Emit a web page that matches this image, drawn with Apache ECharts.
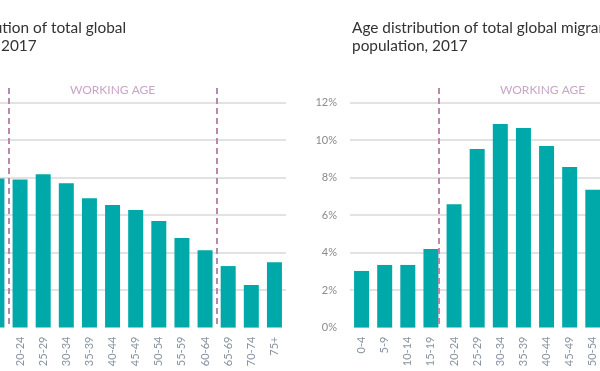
<!DOCTYPE html>
<html>
<head>
<meta charset="utf-8">
<script src="https://cdn.jsdelivr.net/npm/echarts@6/dist/echarts.min.js"></script>
<style>
html,body{margin:0;padding:0;background:#fff;overflow:hidden;}
#wrap{position:relative;width:600px;height:371px;overflow:hidden;}
#chart{position:absolute;left:-200px;top:0;width:1200px;height:371px;}
</style>
</head>
<body>
<div id="wrap"><div id="chart"></div></div>
<script>
var categories = ['0-4','5-9','10-14','15-19','20-24','25-29','30-34','35-39','40-44','45-49','50-54','55-59','60-64','65-69','70-74','75+'];
var globalShare = [8.9, 8.6, 8.2, 7.95, 7.9, 8.18, 7.7, 6.9, 6.53, 6.27, 5.68, 4.77, 4.13, 3.28, 2.27, 3.49];
var migrantShare = [3.02, 3.34, 3.34, 4.19, 6.58, 9.52, 10.85, 10.64, 9.68, 8.56, 7.35, 6.0, 5.0, 4.0, 3.0, 5.5];
var yTicks = [0, 2, 4, 6, 8, 10, 12];
var titles = ['Age distribution of total global\npopulation, 2017', 'Age distribution of total global migrant\npopulation, 2017'];
var workingLabel = 'WORKING AGE';
var workingStartGlobal = 4, workingEndGlobal = 13;
var workingStartMigrant = 3.83, workingEndMigrant = 12.83;

var FONT = 'Lato';
var chart = echarts.init(document.getElementById('chart'), null, {renderer:'canvas'});

function barX(i){ return {type:'category', gridIndex:i, data:categories, boundaryGap:true,
  axisLine:{show:false}, axisTick:{show:false},
  axisLabel:{rotate:90, margin:9, fontSize:11, color:'#8794a2', fontFamily:FONT, interval:0}}; }
function barY(i){ return {type:'value', gridIndex:i, min:yTicks[0], max:yTicks[yTicks.length-1], interval:yTicks[1]-yTicks[0],
  axisLine:{show:false}, axisTick:{show:false},
  axisLabel:{margin:13, fontSize:11, color:'#8a8a8a', fontFamily:FONT, formatter:'{value}%'},
  splitLine:{show:true, showMinLine:false, lineStyle:{color:'#d9d9d9', width:1.5}}}; }
function ovX(i){ return {type:'value', gridIndex:i, min:0, max:categories.length, show:false}; }
function ovY(i){ return {type:'value', gridIndex:i, min:0, max:1, show:false}; }

function overlaySeries(ax, s, e){
  return {type:'line', xAxisIndex:ax, yAxisIndex:ax, data:[[0,0]], symbol:'none', silent:true,
    lineStyle:{opacity:0},
    markLine:{silent:true, symbol:['none','none'], animation:false,
      label:{show:false},
      lineStyle:{type:[6,4], color:'#bb88ad', width:2},
      data:[[{coord:[s,1]},{coord:[s,0]}],[{coord:[e,1]},{coord:[e,0]}]]},
    markArea:{silent:true, itemStyle:{color:'rgba(0,0,0,0)'},
      label:{show:true, position:'inside', color:'#c9a6c8', fontSize:12, fontFamily:FONT, offset:[0,2]},
      data:[[{name:workingLabel, coord:[s,1]},{coord:[e,1]}]]}
  };
}

chart.setOption({
  animation:false,
  title:[
    {text:titles[0], left:116, top:14, textStyle:{fontFamily:FONT, fontSize:15.4, fontWeight:'normal', color:'#333', lineHeight:18}},
    {text:titles[1], left:547, top:14, textStyle:{fontFamily:FONT, fontSize:15.4, fontWeight:'normal', color:'#333', lineHeight:18}}
  ],
  grid:[
    {left:116, width:370, top:102.5, bottom:43.4},
    {left:550, width:370, top:102.5, bottom:43.4},
    {left:116, width:370, top:88, bottom:43.4},
    {left:550, width:370, top:88, bottom:43.4}
  ],
  xAxis:[barX(0), barX(1), ovX(2), ovX(3)],
  yAxis:[barY(0), barY(1), ovY(2), ovY(3)],
  series:[
    {type:'bar', xAxisIndex:0, yAxisIndex:0, data:globalShare, barWidth:15, itemStyle:{color:'#00a9a9'}},
    {type:'bar', xAxisIndex:1, yAxisIndex:1, data:migrantShare, barWidth:15, itemStyle:{color:'#00a9a9'}},
    overlaySeries(2, workingStartGlobal, workingEndGlobal),
    overlaySeries(3, workingStartMigrant, workingEndMigrant)
  ]
});
</script>
</body>
</html>
